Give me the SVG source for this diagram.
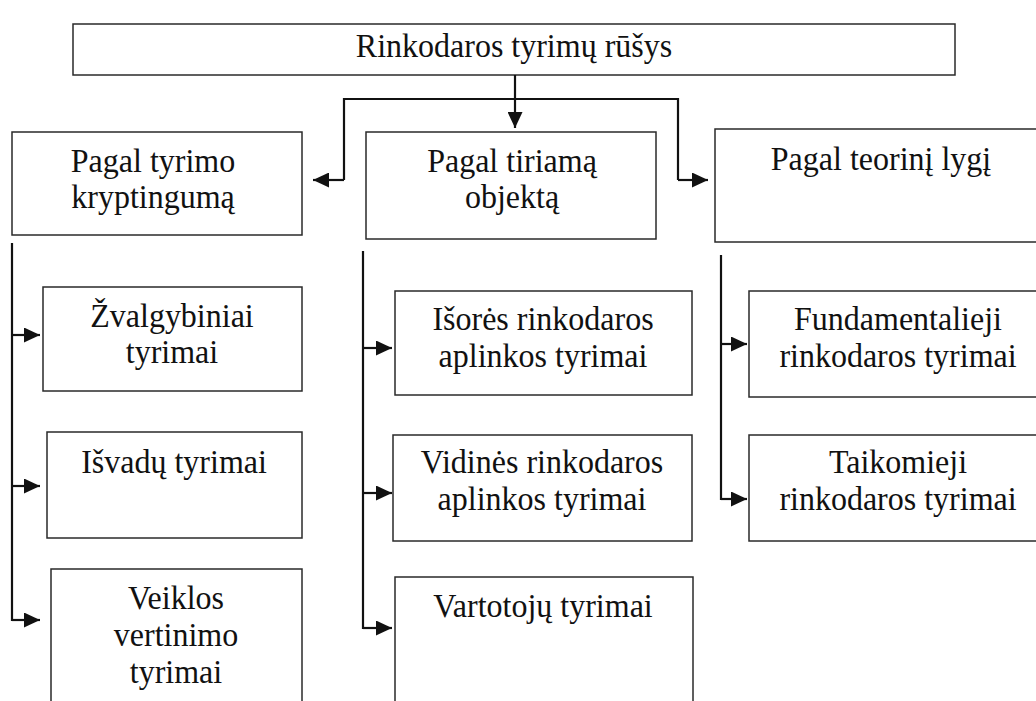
<svg xmlns="http://www.w3.org/2000/svg" width="1036" height="701" viewBox="0 0 1036 701">
  <style>
    .box { fill: #ffffff; stroke: #2a2a2a; stroke-width: 1.5; }
    .lbl { font-family: 'Liberation Serif', 'Times New Roman', serif; font-size: 32px; fill: #111111; text-anchor: middle; }
    .wire { fill: none; stroke: #111111; stroke-width: 2.2; }
  </style>
  <defs>
    <marker id="arrow" markerUnits="userSpaceOnUse" markerWidth="17" markerHeight="15" refX="16" refY="7.5" orient="auto">
      <path d="M0,0 L16,7.5 L0,15 Z" fill="#111111"/>
    </marker>
  </defs>

  <rect width="1036" height="701" fill="#ffffff"/>

  <!-- root -->
  <g id="root">
    <rect class="box" x="73" y="24" width="882" height="51"/>
    <text class="lbl" transform="translate(514,57) scale(1,1.08)">Rinkodaros tyrimų rūšys</text>
  </g>

  <!-- first level -->
  <g id="kryptingumas">
    <rect class="box" x="12" y="132" width="290" height="103"/>
    <text class="lbl" transform="translate(153,172) scale(1,1.08)">Pagal tyrimo</text>
    <text class="lbl" transform="translate(153,208) scale(1,1.08)">kryptingumą</text>
  </g>
  <g id="objektas">
    <rect class="box" x="366" y="132" width="290" height="107"/>
    <text class="lbl" transform="translate(512,172) scale(1,1.08)">Pagal tiriamą</text>
    <text class="lbl" transform="translate(512,208) scale(1,1.08)">objektą</text>
  </g>
  <g id="lygis">
    <rect class="box" x="715" y="129" width="330" height="113"/>
    <text class="lbl" transform="translate(881,170) scale(1,1.08)">Pagal teorinį lygį</text>
  </g>

  <!-- by direction -->
  <g id="zvalgybiniai">
    <rect class="box" x="43" y="287" width="259" height="104"/>
    <text class="lbl" transform="translate(172,327) scale(1,1.08)">Žvalgybiniai</text>
    <text class="lbl" transform="translate(172,363) scale(1,1.08)">tyrimai</text>
  </g>
  <g id="isvadu">
    <rect class="box" x="47" y="432" width="255" height="106"/>
    <text class="lbl" transform="translate(174,473) scale(1,1.08)">Išvadų tyrimai</text>
  </g>
  <g id="veiklos">
    <rect class="box" x="51" y="569" width="251" height="150"/>
    <text class="lbl" transform="translate(176,609) scale(1,1.08)">Veiklos</text>
    <text class="lbl" transform="translate(176,646) scale(1,1.08)">vertinimo</text>
    <text class="lbl" transform="translate(176,683) scale(1,1.08)">tyrimai</text>
  </g>

  <!-- by object -->
  <g id="isores">
    <rect class="box" x="395" y="291" width="297" height="104"/>
    <text class="lbl" transform="translate(543,330) scale(1,1.08)">Išorės rinkodaros</text>
    <text class="lbl" transform="translate(543,367) scale(1,1.08)">aplinkos tyrimai</text>
  </g>
  <g id="vidines">
    <rect class="box" x="393" y="435" width="299" height="106"/>
    <text class="lbl" transform="translate(542,473) scale(1,1.08)">Vidinės rinkodaros</text>
    <text class="lbl" transform="translate(542,510) scale(1,1.08)">aplinkos tyrimai</text>
  </g>
  <g id="vartotoju">
    <rect class="box" x="395" y="577" width="298" height="150"/>
    <text class="lbl" transform="translate(543,617) scale(1,1.08)">Vartotojų tyrimai</text>
  </g>

  <!-- by theoretical level -->
  <g id="fundamentalieji">
    <rect class="box" x="749" y="291" width="300" height="106"/>
    <text class="lbl" transform="translate(898,330) scale(1,1.08)">Fundamentalieji</text>
    <text class="lbl" transform="translate(898,367) scale(1,1.08)">rinkodaros tyrimai</text>
  </g>
  <g id="taikomieji">
    <rect class="box" x="749" y="435" width="300" height="106"/>
    <text class="lbl" transform="translate(898,473) scale(1,1.08)">Taikomieji</text>
    <text class="lbl" transform="translate(898,510) scale(1,1.08)">rinkodaros tyrimai</text>
  </g>

  <!-- connectors -->
  <g id="connectors">
    <path class="wire" d="M515,75 V128" marker-end="url(#arrow)"/>
    <path class="wire" d="M344,180 V99 H678 V180"/>
    <path class="wire" d="M344,180 H313" marker-end="url(#arrow)"/>
    <path class="wire" d="M678,180 H708" marker-end="url(#arrow)"/>

    <path class="wire" d="M12,243 V621"/>
    <path class="wire" d="M12,335 H40" marker-end="url(#arrow)"/>
    <path class="wire" d="M12,486 H40" marker-end="url(#arrow)"/>
    <path class="wire" d="M12,620 H40" marker-end="url(#arrow)"/>

    <path class="wire" d="M363,251 V629"/>
    <path class="wire" d="M363,348 H392" marker-end="url(#arrow)"/>
    <path class="wire" d="M363,493 H392" marker-end="url(#arrow)"/>
    <path class="wire" d="M363,628 H392" marker-end="url(#arrow)"/>

    <path class="wire" d="M721,255 V500"/>
    <path class="wire" d="M721,344 H747" marker-end="url(#arrow)"/>
    <path class="wire" d="M721,499 H747" marker-end="url(#arrow)"/>
  </g>
</svg>
